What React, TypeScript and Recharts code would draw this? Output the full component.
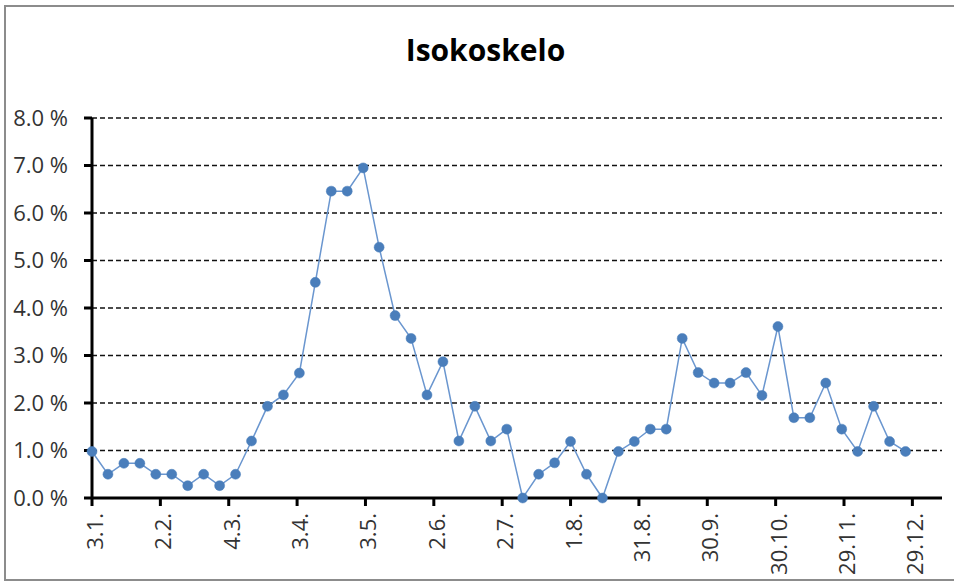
import React from "react";
import { LineChart, Line, XAxis, YAxis, CartesianGrid } from "recharts";

// weekly observations, first week starting 3.1.
const shares = [
  0.98, 0.5, 0.73, 0.73, 0.5, 0.5, 0.26, 0.5, 0.26, 0.5,
  1.2, 1.93, 2.17, 2.63, 4.54, 6.46, 6.46, 6.95, 5.28, 3.84,
  3.36, 2.17, 2.87, 1.2, 1.93, 1.2, 1.45, 0, 0.5, 0.74,
  1.19, 0.5, 0, 0.98, 1.19, 1.45, 1.45, 3.36, 2.64, 2.42,
  2.42, 2.64, 2.16, 3.61, 1.69, 1.69, 2.42, 1.45, 0.98, 1.93,
  1.19, 0.98,
];

const tickLabels = [
  "3.1.", "2.2.", "4.3.", "3.4.", "3.5.", "2.6.", "2.7.",
  "1.8.", "31.8.", "30.9.", "30.10.", "29.11.", "29.12.",
];

const yTicks = [0, 1, 2, 3, 4, 5, 6, 7, 8];

const title = "Isokoskelo";

// days counted from 3.1. (non-leap year)
const dayOf = (label: string) => {
  const [d, m] = label.split(".").map(Number);
  const t = Date.UTC(2015, m - 1, d) - Date.UTC(2015, 0, 3);
  return Math.round(t / 86400000);
};

const xTicks = tickLabels.map(dayOf);
const data = shares.map((v, i) => ({ day: i * 7, value: v }));

const FONT = "'Open Sans', sans-serif";

const XTick = (props: any) => {
  const { x, y, payload } = props;
  const idx = xTicks.indexOf(payload.value);
  return (
    <g transform={`translate(${x},${y})`}>
      <text
        transform="rotate(-90)"
        x={-7}
        dy={11}
        textAnchor="end"
        fontFamily={FONT}
        fontSize={22}
        fill="#333"
      >
        {tickLabels[idx]}
      </text>
    </g>
  );
};

const App = () => {
  return (
    <div
      style={{
        position: "absolute",
        left: 0,
        top: 0,
        width: 954,
        height: 583,
        overflow: "hidden",
        background: "#fff",
      }}
    >
      <div
        style={{
          position: "absolute",
          left: 4,
          top: 5,
          width: 1000,
          height: 572,
          border: "2px solid #8c8c8c",
        }}
      />
      <div
        style={{
          position: "absolute",
          left: 0,
          top: 35,
          width: 971,
          textAlign: "center",
          fontFamily: FONT,
          fontWeight: 700,
          fontSize: 30,
          lineHeight: "30px",
          color: "#000",
        }}
      >
        {title}
      </div>
      <div style={{ position: "absolute", left: 0, top: 0 }}>
        <LineChart
          width={954}
          height={583}
          data={data}
          margin={{ top: 118, right: 12, bottom: 0, left: 0 }}
        >
          <CartesianGrid
            vertical={false}
            stroke="#111"
            strokeWidth={1.3}
            strokeDasharray="5 3"
            horizontalValues={[1, 2, 3, 4, 5, 6, 7, 8]}
          />
          <XAxis
            type="number"
            dataKey="day"
            domain={[0, 373]}
            ticks={xTicks}
            interval={0}
            height={85}
            tickSize={8}
            tickMargin={0}
            axisLine={{ stroke: "#000", strokeWidth: 3 }}
            tickLine={{ stroke: "#000", strokeWidth: 3 }}
            tick={<XTick />}
          />
          <YAxis
            type="number"
            domain={[0, 8]}
            ticks={yTicks}
            interval={0}
            width={92}
            tickSize={8}
            tickMargin={16}
            axisLine={{ stroke: "#000", strokeWidth: 3 }}
            tickLine={{ stroke: "#000", strokeWidth: 3 }}
            tick={{ fontFamily: FONT, fontSize: 22, fill: "#333" }}
            tickFormatter={(v: number) => `${v.toFixed(1)} %`}
          />
          <Line
            type="linear"
            dataKey="value"
            stroke="#6a96cf"
            strokeWidth={1.5}
            dot={{ r: 5, fill: "#4a7ebb", stroke: "#4a7ebb", strokeWidth: 0.5 }}
            activeDot={false}
            isAnimationActive={false}
          />
        </LineChart>
      </div>
    </div>
  );
};

export default App;
